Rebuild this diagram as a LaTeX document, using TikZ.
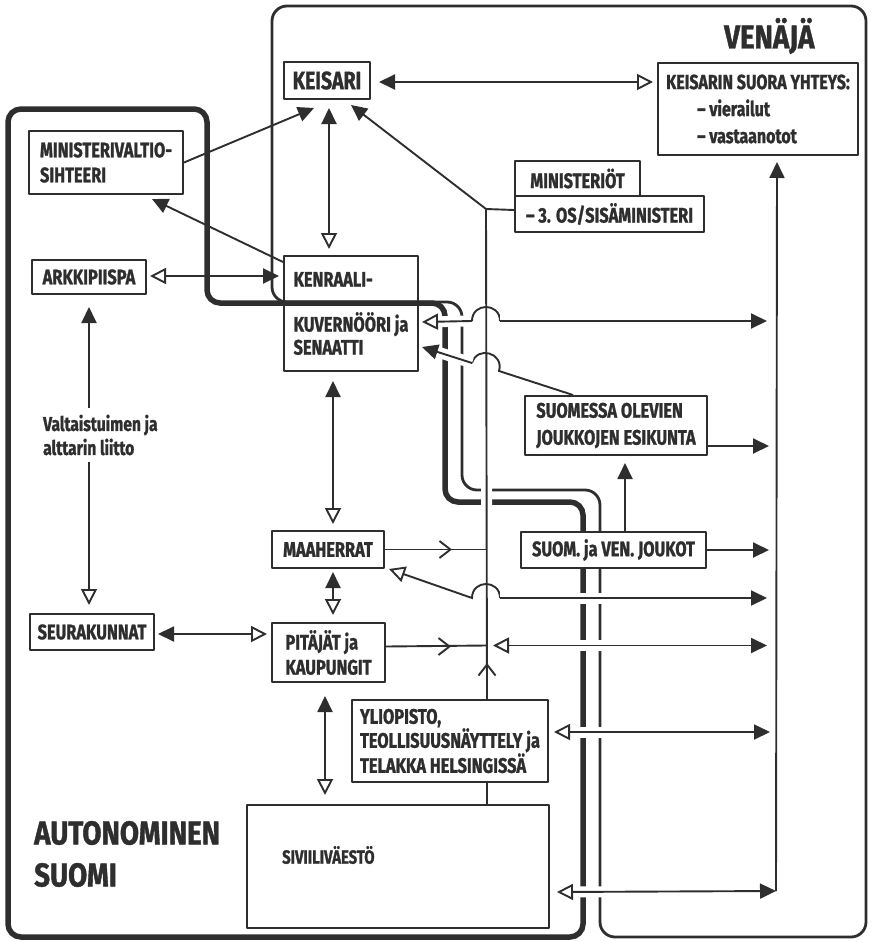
\documentclass[tikz,border=0pt]{standalone}
\usepackage{fontspec}
\newfontfamily\dgcond[FakeStretch=0.78,FakeBold=1.2]{Fira Sans}
\newfontfamily\dgwide[FakeStretch=0.84,FakeBold=1.2]{Fira Sans}
\usetikzlibrary{arrows.meta,calc}
\definecolor{ink}{HTML}{2E2E2E}
\pgfdeclarelayer{bg}
\pgfsetlayers{bg,main}
\def\dgBox{\dgcond\bfseries\fontsize{21}{25}\selectfont}
\def\dgKen{\dgcond\bfseries\fontsize{21}{23}\selectfont}
\def\dgKei{\dgcond\bfseries\fontsize{25}{28}\selectfont}
\def\dgSuo{\dgcond\bfseries\fontsize{20.5}{27}\selectfont}
\def\dgTwo{\dgcond\bfseries\fontsize{21}{27}\selectfont}
\def\dgYli{\dgcond\bfseries\fontsize{21}{24}\selectfont}
\def\dgBig{\dgwide\bfseries\fontsize{33}{42}\selectfont}
\def\dgLbl{\dgcond\bfseries\fontsize{20}{24}\selectfont}
\def\dgSiv{\dgcond\bfseries\fontsize{19}{22}\selectfont}
\begin{document}
\begin{tikzpicture}[x=1pt,y=-1pt,line join=round,
  box/.style={draw=ink,line width=2pt,fill=white,inner sep=0pt,align=left,text=ink,font=\dgBox,anchor=north west},
  con/.style={draw=ink,line width=1.9pt},
  halo/.style={preaction={-,draw=white,line width=11pt}},
  fillT/.tip={Triangle[length=16pt,width=15pt]},
  openT/.tip={Triangle[open,length=16pt,width=16pt]},
  chevT/.tip={Straight Barb[length=11pt,width=17pt]},
  lbl/.style={text=ink,inner sep=0pt}]
\useasboundingbox (0,0) rectangle (871,942);

% boxes
\node[box,font=\dgKei,minimum width=86,minimum height=37] (keisari) at (283,61) {KEISARI};
\node[box,font=\dgSuo,minimum width=200,minimum height=92] (suora) at (657,62) {KEISARIN SUORA YHTEYS:\\\hspace*{31pt}– vierailut\\\hspace*{31pt}– vastaanotot};
\node[box,minimum width=125,minimum height=35] (minist) at (514,160) {MINISTERIÖT};
\node[box,minimum width=189,minimum height=36] (sisam) at (514,195) {– 3. OS/SISÄMINISTERI};
\node[box,minimum width=154,minimum height=63] (mvs) at (28,130) {MINISTERIVALTIO-\\SIHTEERI};
\node[box,minimum width=114,minimum height=34] (arkki) at (31,259) {ARKKIPIISPA};
\node[box,fill=none,font=\dgKen,minimum width=134,minimum height=115] (kenr) at (283,255) {KENRAALI-\\[22pt]KUVERNÖÖRI ja\\SENAATTI};
\node[box,minimum width=112,minimum height=37] (maah) at (271,530) {MAAHERRAT};
\node[box,minimum width=113,minimum height=59] (pit) at (271,622) {PITÄJÄT ja\\KAUPUNGIT};
\node[box,minimum width=124,minimum height=36] (seur) at (29,613) {SEURAKUNNAT};
\node[box,font=\dgYli,minimum width=196,minimum height=82] (ylio) at (351,699) {YLIOPISTO,\\TEOLLISUUSNÄYTTELY ja\\TELAKKA HELSINGISSÄ};
\node[box,minimum width=302,minimum height=123] (siv) at (246,804) {};
\node[lbl,font=\dgSiv,anchor=west] (sivtext) at (282,855) {SIVIILIVÄESTÖ};
\node[box,font=\dgTwo,minimum width=182,minimum height=59] (suomessa) at (524,395) {SUOMESSA OLEVIEN\\JOUKKOJEN ESIKUNTA};
\node[box,minimum width=185,minimum height=36] (joukot) at (520,531) {SUOM. ja VEN. JOUKOT};

% labels
\node[lbl,font=\dgBig,anchor=west] (venaja) at (724,36) {VENÄJÄ};
\node[lbl,font=\dgBig,anchor=west,align=left] (autonom) at (34,854) {AUTONOMINEN\\SUOMI};
\node[lbl,font=\dgLbl,anchor=west,align=left,fill=white,inner xsep=4pt,inner ysep=7pt] (liitto) at (39,435) {Valtaistuimen ja\\alttarin liitto};

\begin{pgfonlayer}{bg}
% regions
\draw[ink,line width=2.8pt,rounded corners=15pt] (272,150) -- (272,6) -- (866,6) -- (866,937) -- (600,937) -- (600,490) -- (462,490) -- (462,302) -- (272,302) -- cycle;
\draw[ink,line width=5.5pt,rounded corners=13pt] (8,500) -- (8,109) -- (207,109) -- (207,303) -- (445,303) -- (445,502) -- (583,502) -- (583,937) -- (8,937) -- cycle;

\coordinate (j1) at (486,209);
\coordinate (j2) at (486,645.5);
\coordinate (rvb) at (776,891);

\draw[con,halo] (j1) -- ($(ylio.north)+(37,0)$);
\draw[con,fillT-] ($(keisari.south)+(24,5)$) -- (j1) -- ($(sisam.west)+(0,-4)$);
\draw[con,-chevT] ($(ylio.north)+(37,0)$) -- ++(0,-36);
\draw[con] ($(ylio.south)+(37,0)$) -- ($(siv.north)+(89,0)$);

\draw[con,fillT-openT] ($(keisari.east)+(8,1.5)$) -- ($(suora.west)+(-4,-27)$);
\draw[con,-fillT] (mvs.east) -- ($(keisari.south)+(-13,8)$);
\draw[con,-fillT] ($(kenr.north west)+(0,7)$) -- ($(mvs.south east)+(-32,4)$);
\draw[con,fillT-openT] ($(keisari.south)+(2,8)$) -- ($(kenr.north)+(-22,-6)$);
\draw[con,openT-fillT] ($(arkki.east)+(3,-1)$) -- ($(kenr.west)+(-4,-37.5)$);
\draw[con,fillT-openT] ($(arkki.south)+(0,12)$) -- ($(seur.north)+(-3,-8)$);
\draw[con,fillT-openT] ($(kenr.south)+(-18,9)$) -- ($(maah.north)+(5,-6)$);
\draw[con,fillT-openT] ($(maah.south)+(5,3)$) -- ($(pit.north)+(4.5,-7)$);
\draw[con,fillT-openT] ($(pit.south)+(-3.5,13)$) -- ($(siv.north)+(-73,-9)$);
\draw[con,fillT-openT] ($(seur.east)+(3,2)$) -- ($(pit.west)+(-4,-18.5)$);

\draw[con] (maah.east) -- (maah.east -| j1);
\draw[con,-chevT] (maah.east) -- ++(67,0);
\draw[con] ($(pit.east)+(0,-6)$) -- (j2);
\draw[con,-chevT] ($(pit.east)+(0,-6)$) -- ++(65,0);
\draw[con,halo,openT-fillT] ($(j2)+(7,0)$) -- ++(274,0);

\draw[con,-fillT] ($(suomessa.east)+(0,20.5)$) -- ++(61,0);
\draw[con,-fillT] (joukot.east) -- ++(62,0);
\draw[con,-fillT] ($(joukot.north)+(11.5,0)$) -- ($(suomessa.south)+(9,7)$);

% line with hop at y=321
\draw[con,halo,openT-] ($(kenr.east)+(3,8.5)$) -- (472,321);
\draw[con] (472,321) .. controls (472,302.3) and (500,302.3) .. (500,321);
\draw[con,halo,-fillT] (500,321) -- (767,321);
% esikunta to kenraalikuvernoori
\draw[con] ($(suomessa.north)+(-43,0)$) -- (499,371) .. controls (504.3,353.1) and (477.3,345.1) .. (472,363);
\draw[con,halo,-fillT] (472,363) -- ($(kenr.east)+(3,33.5)$);
% maaherrat hop line
\draw[con,openT-] ($(maah.south east)+(4,0)$) -- (472,598) .. controls (472,579.3) and (500,579.3) .. (500,598);
\draw[con,halo,-fillT] (500,598) -- (767,598);

\draw[con,halo,openT-fillT] ($(ylio.east)+(5,-9)$) -- ++(216,0);
\draw[con,halo,openT-fillT] ($(siv.east)+(7,25.5)$) -- (rvb);
\draw[con,-fillT] (rvb) -- ($(suora.south)+(19,6)$);
\end{pgfonlayer}
\end{tikzpicture}
\end{document}
